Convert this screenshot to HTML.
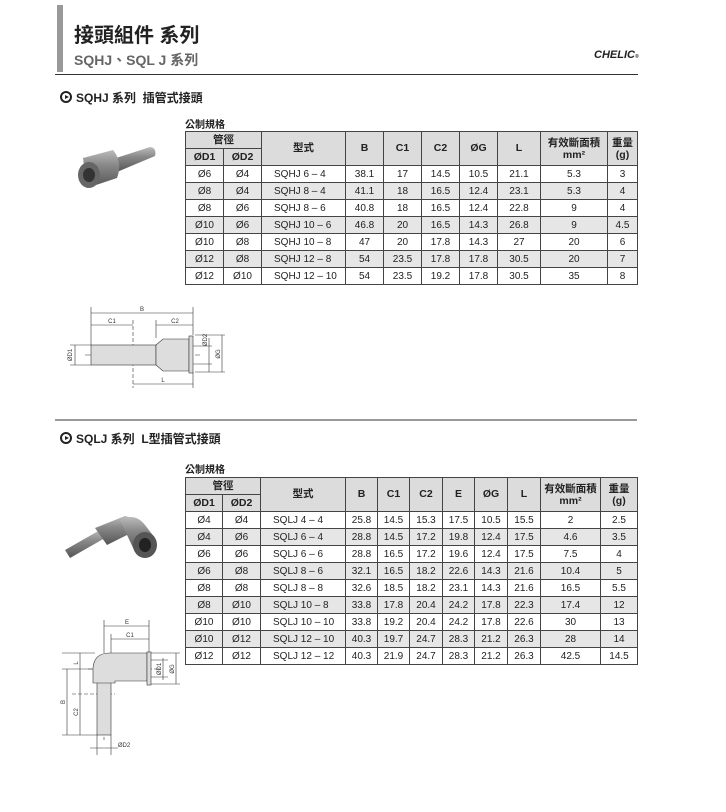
<!DOCTYPE html>
<html><head><meta charset="utf-8"><style>
body{margin:0;background:#fff;width:726px;height:812px;position:relative;font-family:"Liberation Sans","Noto Sans CJK TC",sans-serif;color:#222;overflow:hidden}
.a{position:absolute}
table{position:absolute;border-collapse:collapse;table-layout:fixed;font-size:10px}
td{border:1px solid #444;padding:0;height:16px;text-align:center;white-space:nowrap;line-height:15px}
td.l{text-align:left;padding-left:12px}
td.h{background:#dcdcdc;font-weight:bold;font-size:10.5px}
tr.g td{background:#e6e6e6}
.hd{font-weight:bold;font-size:12px}
.circ{display:inline-block;width:8px;height:8px;border:2px solid #222;border-radius:50%;position:relative;vertical-align:-1px;margin-right:4px}
.circ:after{content:"";position:absolute;left:3px;top:1.5px;border-left:4px solid #222;border-top:2.5px solid transparent;border-bottom:2.5px solid transparent}
</style></head><body>
<div class="a" style="left:57px;top:5px;width:6px;height:67px;background:#999"></div>
<div class="a" style="left:74px;top:19px;font-size:20px;font-weight:bold;color:#222">接頭組件 系列</div>
<div class="a" style="left:74px;top:50px;font-size:14px;font-weight:bold;color:#666">SQHJ、SQL J 系列</div>
<div class="a" style="left:594px;top:49px;font-size:11px;font-weight:bold;font-style:italic;color:#222">CHELIC<span style="font-size:5px">®</span></div>
<div class="a" style="left:55px;top:74px;width:583px;height:1px;background:#333"></div>
<div class="a hd" style="left:60px;top:89px"><span class="circ"></span>SQHJ 系列 &nbsp;插管式接頭</div>
<div class="a" style="left:185px;top:116px;font-size:10px;font-weight:bold">公制規格</div>

<table style="left:185px;top:131px;width:452px">
<colgroup><col style="width:38px"><col style="width:38px"><col style="width:84px"><col style="width:38px"><col style="width:38px"><col style="width:38px"><col style="width:38px"><col style="width:43px"><col style="width:67px"><col style="width:30px"></colgroup>
<tr><td class="h" colspan="2">管徑</td><td class="h" rowspan="2">型式</td><td class="h" rowspan="2">B</td><td class="h" rowspan="2">C1</td><td class="h" rowspan="2">C2</td><td class="h" rowspan="2">ØG</td><td class="h" rowspan="2">L</td><td class="h" rowspan="2" style="line-height:12px">有效斷面積<br>mm²</td><td class="h" rowspan="2" style="line-height:12px">重量<br>(g)</td></tr>
<tr><td class="h">ØD1</td><td class="h">ØD2</td></tr>
<tr><td>Ø6</td><td>Ø4</td><td class="l">SQHJ 6 – 4</td><td>38.1</td><td>17</td><td>14.5</td><td>10.5</td><td>21.1</td><td>5.3</td><td>3</td></tr>
<tr class="g"><td>Ø8</td><td>Ø4</td><td class="l">SQHJ 8 – 4</td><td>41.1</td><td>18</td><td>16.5</td><td>12.4</td><td>23.1</td><td>5.3</td><td>4</td></tr>
<tr><td>Ø8</td><td>Ø6</td><td class="l">SQHJ 8 – 6</td><td>40.8</td><td>18</td><td>16.5</td><td>12.4</td><td>22.8</td><td>9</td><td>4</td></tr>
<tr class="g"><td>Ø10</td><td>Ø6</td><td class="l">SQHJ 10 – 6</td><td>46.8</td><td>20</td><td>16.5</td><td>14.3</td><td>26.8</td><td>9</td><td>4.5</td></tr>
<tr><td>Ø10</td><td>Ø8</td><td class="l">SQHJ 10 – 8</td><td>47</td><td>20</td><td>17.8</td><td>14.3</td><td>27</td><td>20</td><td>6</td></tr>
<tr class="g"><td>Ø12</td><td>Ø8</td><td class="l">SQHJ 12 – 8</td><td>54</td><td>23.5</td><td>17.8</td><td>17.8</td><td>30.5</td><td>20</td><td>7</td></tr>
<tr><td>Ø12</td><td>Ø10</td><td class="l">SQHJ 12 – 10</td><td>54</td><td>23.5</td><td>19.2</td><td>17.8</td><td>30.5</td><td>35</td><td>8</td></tr>
</table>

<svg class="a" style="left:0;top:0" width="726" height="812">
<defs><linearGradient id="m" x1="0" y1="0" x2="0" y2="1"><stop offset="0" stop-color="#bbb"/><stop offset=".4" stop-color="#888"/><stop offset="1" stop-color="#555"/></linearGradient></defs>
<!-- photo 1 -->
<g transform="translate(55,120)">
<path d="M55 40 L95 27 Q102 28 100 36 L62 52 Z" fill="url(#m)"/>
<path d="M28 38 L58 30 Q68 42 62 58 L32 68 Z" fill="url(#m)"/>
<ellipse cx="34" cy="55" rx="11" ry="13" fill="#666"/>
<ellipse cx="34" cy="55" rx="6" ry="7" fill="#333"/>
</g>
<!-- drawing 1 -->
<g stroke="#333" stroke-width=".6" fill="none">
<line x1="91" y1="307" x2="91" y2="345"/><line x1="193" y1="307" x2="193" y2="335"/>
<line x1="91" y1="313" x2="193" y2="313"/><line x1="91" y1="325" x2="133" y2="325"/>
<line x1="156" y1="325" x2="193" y2="325"/><line x1="156" y1="320" x2="156" y2="338"/>
<line x1="133" y1="320" x2="133" y2="388" stroke-dasharray="4 2"/>
<line x1="133" y1="384" x2="193" y2="384"/><line x1="193" y1="372" x2="193" y2="388"/>
<line x1="70" y1="345" x2="91" y2="345"/><line x1="70" y1="365" x2="91" y2="365"/><line x1="75" y1="345" x2="75" y2="365"/>
<line x1="195" y1="335" x2="225" y2="335"/><line x1="195" y1="372" x2="225" y2="372"/><line x1="222" y1="335" x2="222" y2="372"/>
<line x1="193" y1="346" x2="212" y2="346"/><line x1="193" y1="364" x2="212" y2="364"/><line x1="209" y1="338" x2="209" y2="372"/>
<line x1="85" y1="355" x2="200" y2="355" stroke-dasharray="6 2 1 2"/>
</g>
<g stroke="#333" stroke-width=".6">
<rect x="91" y="345" width="65" height="20" fill="#ddd"/>
<path d="M156 345 L163 339 L189 339 L189 371 L163 371 L156 365 Z" fill="#ddd"/>
<rect x="189" y="336" width="4" height="37" fill="#ddd"/>
</g>
<g font-size="6" fill="#333" text-anchor="middle">
<text x="142" y="311">B</text><text x="112" y="323">C1</text><text x="175" y="323">C2</text><text x="163" y="382">L</text>
<text transform="translate(72,355) rotate(-90)">ØD1</text><text transform="translate(207,340) rotate(-90)">ØD2</text><text transform="translate(220,354) rotate(-90)">ØG</text>
</g>
<line x1="55" y1="420" x2="637" y2="420" stroke="#333" stroke-width="1"/>
<!-- photo 2 -->
<g transform="translate(55,490)">
<path d="M10 60 L45 40 L50 48 L15 68 Z" fill="url(#m)"/>
<path d="M40 38 L70 26 Q80 28 82 40 L52 55 Z" fill="url(#m)"/>
<path d="M65 30 Q80 22 90 35 L100 48 L80 62 Z" fill="url(#m)"/>
<ellipse cx="90" cy="55" rx="12" ry="13" fill="#555"/>
<ellipse cx="90" cy="55" rx="6" ry="7" fill="#222"/>
</g>
<!-- drawing 2 -->
<g stroke="#333" stroke-width=".6" fill="none">
<line x1="104" y1="620" x2="104" y2="653"/><line x1="149" y1="620" x2="149" y2="653"/>
<line x1="104" y1="626" x2="149" y2="626"/><line x1="111" y1="639" x2="149" y2="639"/><line x1="111" y1="634" x2="111" y2="653"/>
<line x1="62" y1="653" x2="95" y2="653"/><line x1="62" y1="735" x2="97" y2="735"/><line x1="80" y1="653" x2="80" y2="735"/>
<line x1="67" y1="669" x2="67" y2="735"/><line x1="62" y1="669" x2="92" y2="669"/>
<line x1="72" y1="694" x2="115" y2="694" stroke-dasharray="4 2"/>
<line x1="151" y1="653" x2="180" y2="653"/><line x1="151" y1="684" x2="180" y2="684"/><line x1="176" y1="653" x2="176" y2="684"/>
<line x1="151" y1="660" x2="168" y2="660"/><line x1="151" y1="677" x2="168" y2="677"/><line x1="163" y1="658" x2="163" y2="680"/>
<line x1="97" y1="735" x2="97" y2="755"/><line x1="111" y1="735" x2="111" y2="755"/><line x1="90" y1="748" x2="118" y2="748"/>
<line x1="88" y1="669" x2="160" y2="669" stroke-dasharray="6 2 1 2"/>
<line x1="104" y1="660" x2="104" y2="740" stroke-dasharray="6 2 1 2"/>
</g>
<g stroke="#333" stroke-width=".6" fill="#ddd">
<rect x="97" y="680" width="14" height="55"/>
<path d="M93 683 L93 668 Q94 653 110 653 L147 653 L147 681 L115 681 L115 683 Z"/>
<rect x="147" y="652" width="4" height="33"/>
</g>
<g font-size="6" fill="#333" text-anchor="middle">
<text x="127" y="624">E</text><text x="130" y="637">C1</text><text x="124" y="747">ØD2</text>
<text transform="translate(78,663) rotate(-90)">L</text><text transform="translate(78,712) rotate(-90)">C2</text><text transform="translate(65,702) rotate(-90)">B</text>
<text transform="translate(161,669) rotate(-90)">ØD1</text><text transform="translate(174,669) rotate(-90)">ØG</text>
</g>
</svg>

<div class="a hd" style="left:60px;top:430px"><span class="circ"></span>SQLJ 系列 &nbsp;L型插管式接頭</div>
<div class="a" style="left:185px;top:461px;font-size:10px;font-weight:bold">公制規格</div>

<table style="left:185px;top:477px;width:452px">
<colgroup><col style="width:37px"><col style="width:38px"><col style="width:85px"><col style="width:32px"><col style="width:32px"><col style="width:33px"><col style="width:32px"><col style="width:33px"><col style="width:33px"><col style="width:60px"><col style="width:37px"></colgroup>
<tr><td class="h" colspan="2">管徑</td><td class="h" rowspan="2">型式</td><td class="h" rowspan="2">B</td><td class="h" rowspan="2">C1</td><td class="h" rowspan="2">C2</td><td class="h" rowspan="2">E</td><td class="h" rowspan="2">ØG</td><td class="h" rowspan="2">L</td><td class="h" rowspan="2" style="line-height:12px">有效斷面積<br>mm²</td><td class="h" rowspan="2" style="line-height:12px">重量<br>(g)</td></tr>
<tr><td class="h">ØD1</td><td class="h">ØD2</td></tr>
<tr><td>Ø4</td><td>Ø4</td><td class="l">SQLJ 4 – 4</td><td>25.8</td><td>14.5</td><td>15.3</td><td>17.5</td><td>10.5</td><td>15.5</td><td>2</td><td>2.5</td></tr>
<tr class="g"><td>Ø4</td><td>Ø6</td><td class="l">SQLJ 6 – 4</td><td>28.8</td><td>14.5</td><td>17.2</td><td>19.8</td><td>12.4</td><td>17.5</td><td>4.6</td><td>3.5</td></tr>
<tr><td>Ø6</td><td>Ø6</td><td class="l">SQLJ 6 – 6</td><td>28.8</td><td>16.5</td><td>17.2</td><td>19.6</td><td>12.4</td><td>17.5</td><td>7.5</td><td>4</td></tr>
<tr class="g"><td>Ø6</td><td>Ø8</td><td class="l">SQLJ 8 – 6</td><td>32.1</td><td>16.5</td><td>18.2</td><td>22.6</td><td>14.3</td><td>21.6</td><td>10.4</td><td>5</td></tr>
<tr><td>Ø8</td><td>Ø8</td><td class="l">SQLJ 8 – 8</td><td>32.6</td><td>18.5</td><td>18.2</td><td>23.1</td><td>14.3</td><td>21.6</td><td>16.5</td><td>5.5</td></tr>
<tr class="g"><td>Ø8</td><td>Ø10</td><td class="l">SQLJ 10 – 8</td><td>33.8</td><td>17.8</td><td>20.4</td><td>24.2</td><td>17.8</td><td>22.3</td><td>17.4</td><td>12</td></tr>
<tr><td>Ø10</td><td>Ø10</td><td class="l">SQLJ 10 – 10</td><td>33.8</td><td>19.2</td><td>20.4</td><td>24.2</td><td>17.8</td><td>22.6</td><td>30</td><td>13</td></tr>
<tr class="g"><td>Ø10</td><td>Ø12</td><td class="l">SQLJ 12 – 10</td><td>40.3</td><td>19.7</td><td>24.7</td><td>28.3</td><td>21.2</td><td>26.3</td><td>28</td><td>14</td></tr>
<tr><td>Ø12</td><td>Ø12</td><td class="l">SQLJ 12 – 12</td><td>40.3</td><td>21.9</td><td>24.7</td><td>28.3</td><td>21.2</td><td>26.3</td><td>42.5</td><td>14.5</td></tr>
</table>
</body></html>
